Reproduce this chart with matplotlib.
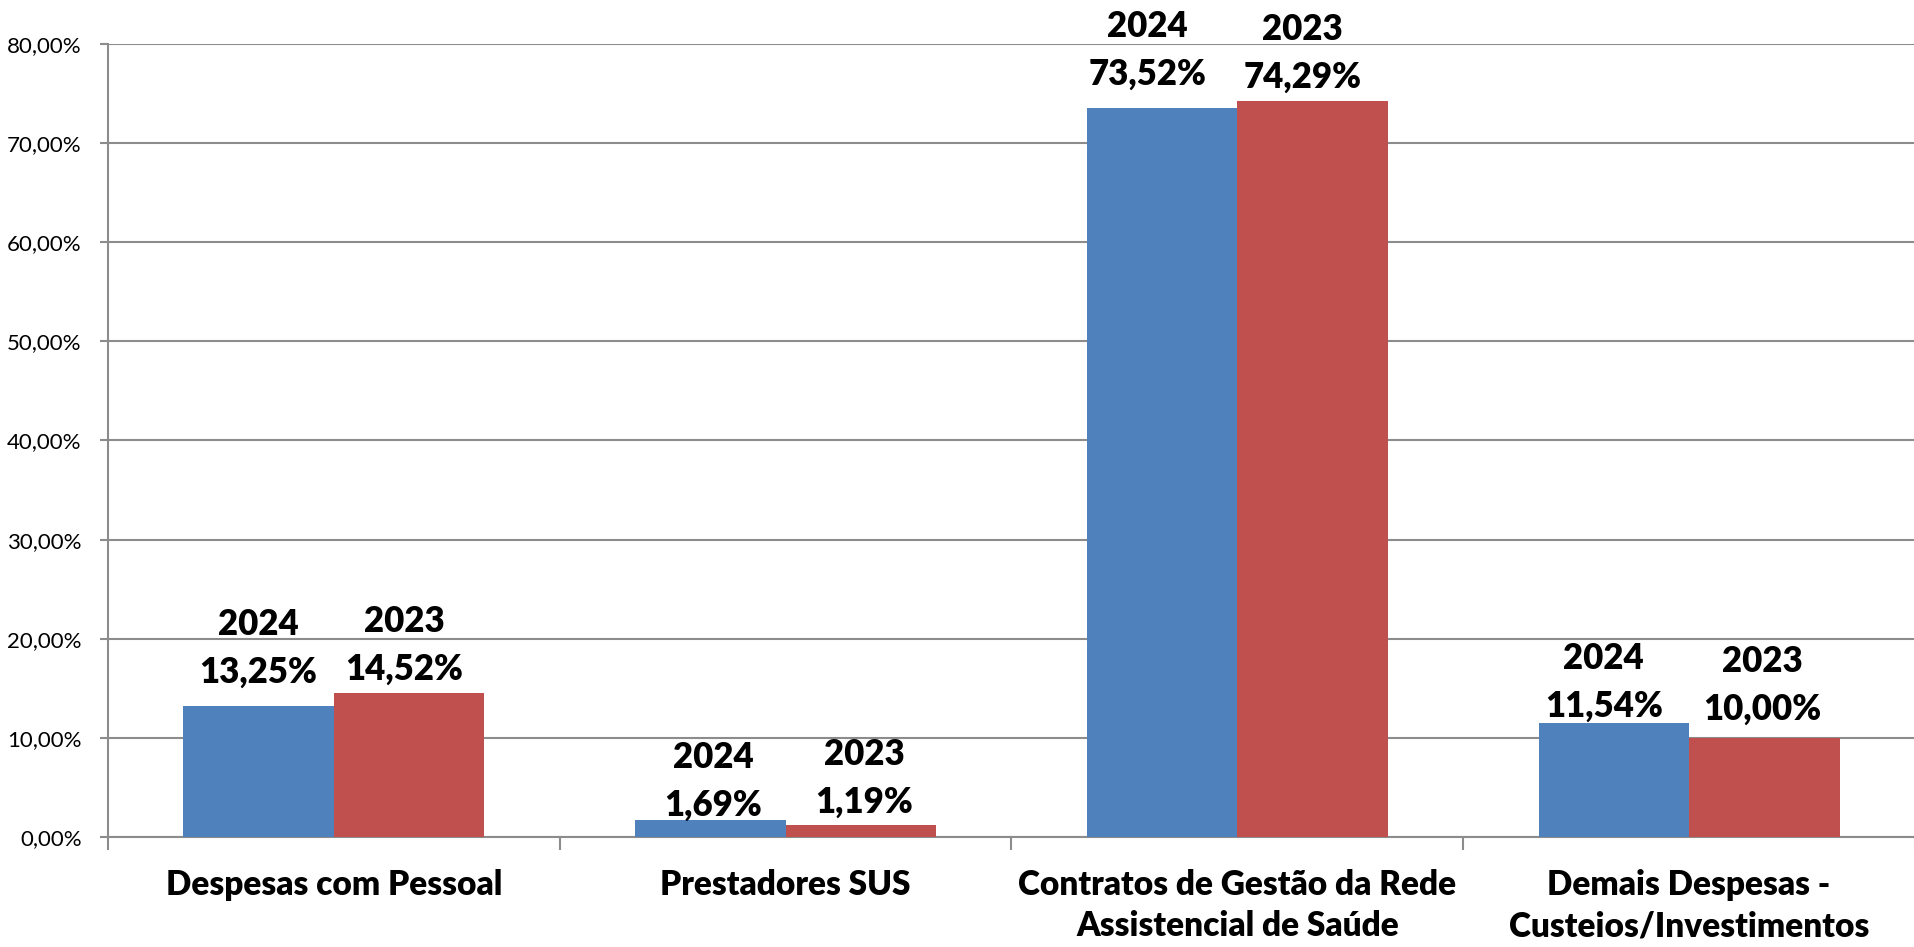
import matplotlib
matplotlib.use("Agg")
import matplotlib.pyplot as plt
from matplotlib.ticker import FixedLocator, FuncFormatter

# ---- data ----
categories = ["Despesas com Pessoal", "Prestadores SUS",
              "Contratos de Gestão da Rede\nAssistencial de Saúde",
              "Demais Despesas -\nCusteios/Investimentos"]
series_names = ["2024", "2023"]
values_2024 = [13.25, 1.69, 73.52, 11.54]
values_2023 = [14.52, 1.19, 74.29, 10.00]
yticks = [0, 10, 20, 30, 40, 50, 60, 70, 80]

# ---- style / layout ----
colors = ["#4F81BD", "#C0504D"]
grid_color = "#8c8c8c"
font = "Lato"
# manual label nudges (pixels): (dx, dy above bar top) per series, per category
label_dx = [[0, 3, -15, -10], [-5, 3, -10, -2]]
label_dy = [[23, 4, 23, 6], [13, 12, 13, 18]]
year_gap = 48

W, H = 1915, 947
fig = plt.figure(figsize=(W / 100, H / 100), dpi=100)
left, right, top, bottom = 108, 1915, 44, 837
ax = fig.add_axes([left / W, 1 - bottom / H, (right - left) / W, (bottom - top) / H])

n = len(categories)
bw = 1 / 3
xs = list(range(n))
all_vals = [values_2024, values_2023]
for s, vals in enumerate(all_vals):
    offs = (s - 0.5) * bw
    ax.bar([x + offs for x in xs], vals, width=bw, color=colors[s], zorder=3,
           linewidth=0)
    for i, v in enumerate(vals):
        pct = f"{v:.2f}".replace(".", ",") + "%"
        ax.annotate(pct, xy=(i + offs, v), xytext=(label_dx[s][i], label_dy[s][i]),
                    textcoords="offset pixels", ha="center", va="baseline",
                    fontsize=25, fontweight="heavy", family=font, zorder=5)
        ax.annotate(series_names[s], xy=(i + offs, v),
                    xytext=(label_dx[s][i], label_dy[s][i] + year_gap),
                    textcoords="offset pixels", ha="center", va="baseline",
                    fontsize=25, fontweight="heavy", family=font, zorder=5)

ax.set_xlim(-0.5, n - 0.5)
ax.set_ylim(0, 80)
ax.yaxis.set_major_locator(FixedLocator(yticks))
ax.yaxis.set_major_formatter(FuncFormatter(lambda v, p: f"{v:.2f}".replace(".", ",") + "%"))
ax.grid(axis="y", color=grid_color, linewidth=1.5, zorder=0)
ax.set_axisbelow(True)
for sp in ["top", "right"]:
    ax.spines[sp].set_visible(False)
for sp in ["left", "bottom"]:
    ax.spines[sp].set_color(grid_color)
    ax.spines[sp].set_linewidth(1.5)
ax.tick_params(axis="y", length=6, width=1.5, color=grid_color, pad=13,
               labelsize=16)
for lab in ax.get_yticklabels():
    lab.set_family(font)

ax.xaxis.set_major_locator(FixedLocator([i - 0.5 for i in range(n + 1)]))
ax.xaxis.set_major_formatter(FuncFormatter(lambda v, p: ""))
ax.tick_params(axis="x", which="major", length=9, width=1.5, color=grid_color)
ax.xaxis.set_minor_locator(FixedLocator(xs))
ax.set_xticklabels(categories, minor=True)
ax.tick_params(axis="x", which="minor", length=0, pad=23, labelsize=24)
for lab in ax.get_xticklabels(minor=True):
    lab.set_family(font)
    lab.set_fontweight("heavy")
    lab.set_linespacing(1.35)

fig.savefig("out.png", dpi=100)
